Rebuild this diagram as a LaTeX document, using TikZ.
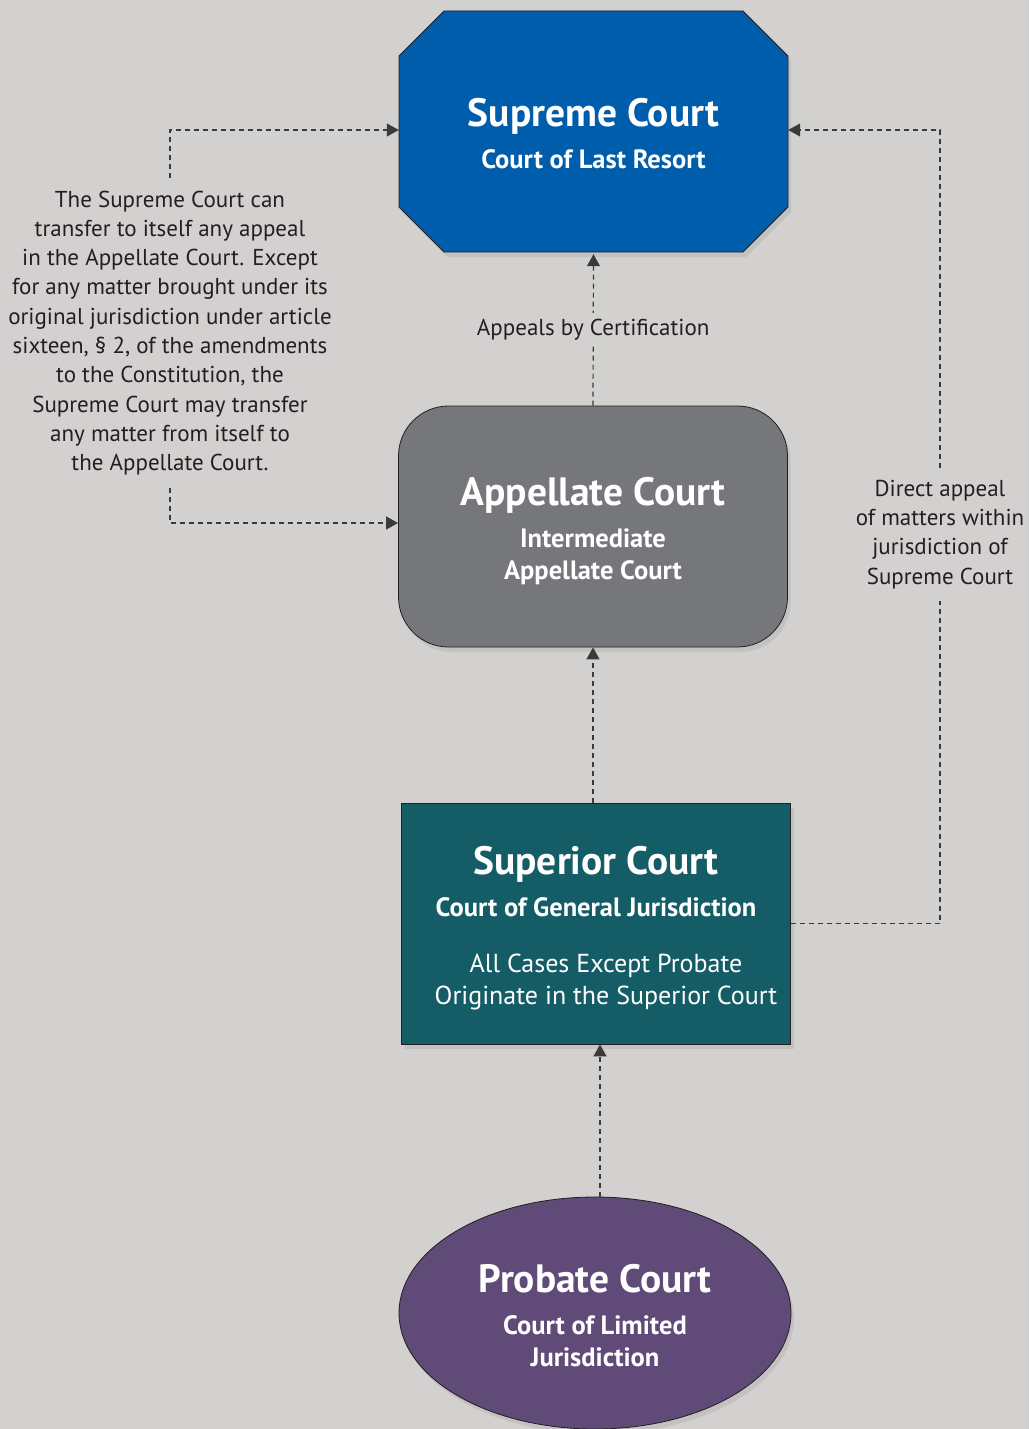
\documentclass[tikz,border=0pt]{standalone}
\usepackage{fontspec}
\setmainfont{PT Sans}
\usepackage{xcolor}
\definecolor{CourtBg}{HTML}{D2D1CF}
\definecolor{CourtBlue}{HTML}{005DAB}
\definecolor{CourtGray}{HTML}{76777B}
\definecolor{CourtTeal}{HTML}{145D67}
\definecolor{CourtPlum}{HTML}{5F4A78}
\definecolor{CourtInk}{HTML}{231F20}
\definecolor{CourtLine}{HTML}{3A3A3A}
\usetikzlibrary{arrows.meta,positioning,shapes.geometric,shadows}
\newcommand\CourtTitle{\fontsize{39.5}{32}\selectfont\bfseries}
\newcommand\CourtSub{\fontsize{26.5}{32}\selectfont\bfseries}
\newcommand\CourtBody{\fontsize{26}{32}\selectfont\mdseries\hspace*{20pt}}

\begin{document}
\begin{tikzpicture}[x=1pt,y=-1pt,
    courtshade/.style={draw=CourtInk,line width=.8pt,
      drop shadow={opacity=.18,shadow xshift=3pt,shadow yshift=-5pt}},
    courttext/.style={text=white,align=center,inner sep=0pt,
      font=\fontsize{26}{32}\selectfont,minimum width=389pt,minimum height=241pt},
    court/.style={courtshade,courttext},
    note/.style={text=CourtInk,align=center,font=\fontsize{23}{29.3}\selectfont,inner sep=0pt},
    link/.style={line width=1.2pt,color=CourtLine,dash pattern=on 5pt off 4pt},
    linkto/.style={link,-{Triangle[length=12pt,width=13pt]}}
  ]
    \fill[CourtBg] (0,0) rectangle (1029,1429);
    \useasboundingbox (0,0) rectangle (1029,1429);
    \path[courtshade,fill=CourtBlue] (444,11) -- (743,11) -- (788,56) -- (788,207)
      -- (743,252) -- (444,252) -- (399,207) -- (399,56) -- cycle;
    \node[courttext] (supreme) at (593.5,133.5)
      {\CourtTitle Supreme Court\\[10pt]\CourtSub Court of Last Resort};
    \node[court,fill=CourtGray,rounded corners=50pt] (appellate) at (593,526.5)
      {\CourtTitle\rule{0pt}{38pt}Appellate Court\\[10pt]\CourtSub Intermediate\\\CourtSub Appellate Court};
    \node[court,fill=CourtTeal] (superior) at (596,923.5)
      {\CourtTitle\rule{0pt}{38pt}Superior Court\\[10pt]\CourtSub Court of General Jurisdiction\\[24pt]\CourtBody All Cases Except Probate\\\CourtBody Originate in the Superior Court};
    \node[court,fill=CourtPlum,ellipse,minimum width=392pt,minimum height=232pt] (probate) at (595,1313)
      {\CourtTitle\rule{0pt}{34pt}Probate Court\\[10pt]\CourtSub Court of Limited\\\CourtSub Jurisdiction};
    \node[note,inner ysep=12pt] (transfer) at (170,333)
      {The Supreme Court can\\transfer to itself any appeal\\in the Appellate Court. Except\\for any matter brought under its\\original jurisdiction under article\\sixteen, \S\ 2, of the amendments\\to the Constitution, the\\Supreme Court may transfer\\any matter from itself to\\the Appellate Court.};
    \node[note,inner ysep=12pt] (direct) at (940,534.5)
      {Direct appeal\\of matters within\\jurisdiction of\\Supreme Court};
    \draw[linkto] (appellate.north) -- node[note,fill=CourtBg,inner ysep=6pt] {Appeals by Certification} (supreme.south);
    \draw[linkto] (superior.north -| appellate.south) -- (appellate.south);
    \draw[linkto] ([xshift=5pt]probate.north) -- ([xshift=4pt]superior.south);
    \draw[linkto] (transfer.north) |- ([yshift=3.5pt]supreme.west);
    \draw[linkto] (transfer.south) |- ([yshift=3.5pt]appellate.west);
    \draw[link] (superior.east) -| (direct.south);
    \draw[linkto] (direct.north) |- ([yshift=3.5pt]supreme.east);
  \end{tikzpicture}
\end{document}
